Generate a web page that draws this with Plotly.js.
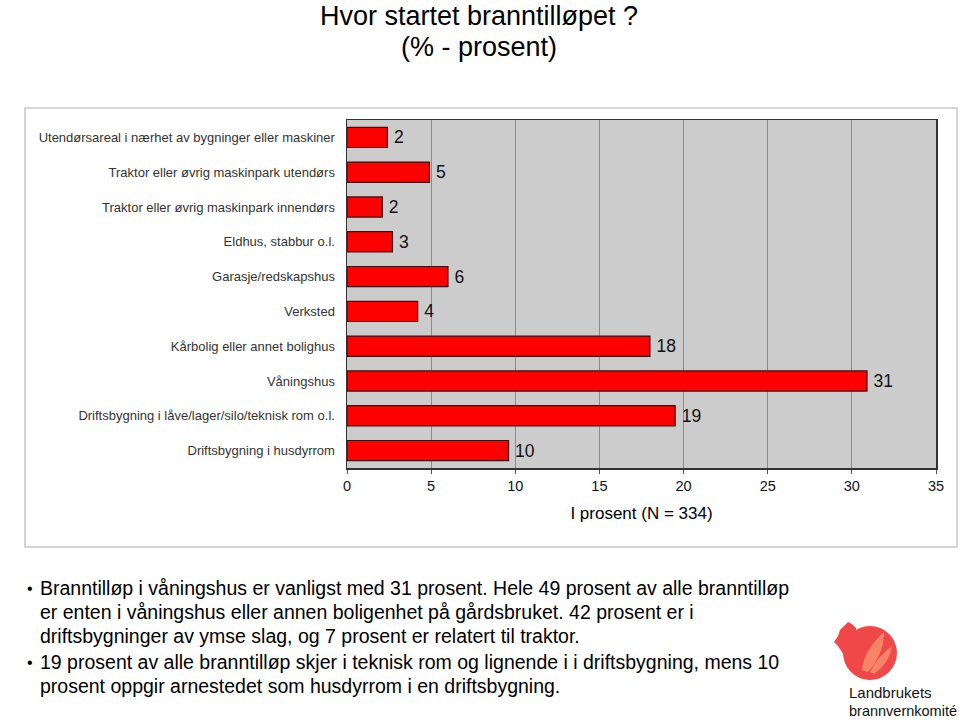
<!DOCTYPE html>
<html>
<head>
<meta charset="utf-8">
<script src="https://cdn.plot.ly/plotly-3.0.1.min.js"></script>
<style>
html,body{margin:0;padding:0;background:#fff;}
#chart{width:960px;height:727px;}
</style>
</head>
<body>
<div id="chart"></div>
<script>
const categories = [
  "Utendørsareal i nærhet av bygninger eller maskiner",
  "Traktor eller øvrig maskinpark utendørs",
  "Traktor eller øvrig maskinpark innendørs",
  "Eldhus, stabbur o.l.",
  "Garasje/redskapshus",
  "Verksted",
  "Kårbolig eller annet bolighus",
  "Våningshus",
  "Driftsbygning i låve/lager/silo/teknisk rom o.l.",
  "Driftsbygning i husdyrrom"
];
const values = [2.4, 4.9, 2.1, 2.7, 6.0, 4.2, 18.0, 30.9, 19.5, 9.6];
const valueLabels = ["2", "5", "2", "3", "6", "4", "18", "31", "19", "10"];
const xTicks = [0, 5, 10, 15, 20, 25, 30, 35];

const bulletLines = [
  "Branntilløp i våningshus er vanligst med 31 prosent. Hele 49 prosent av alle branntilløp",
  "er enten i våningshus eller annen boligenhet på gårdsbruket. 42 prosent er i",
  "driftsbygninger av ymse slag, og 7 prosent er relatert til traktor.",
  "19 prosent av alle branntilløp skjer i teknisk rom og lignende i i driftsbygning, mens 10",
  "prosent oppgir arnestedet som husdyrrom i en driftsbygning."
];

const W = 960, H = 727;
const mL = 347, mR = 24, mT = 120, mB = 259;
const pw = W - mL - mR, ph = H - mT - mB;
function px(x){ return (x - mL) / pw; }
function py(y){ return 1 - (y - mT) / ph; }

const FONT = "Liberation Sans, Arial, sans-serif";

const trace = {
  type: "bar",
  orientation: "h",
  y: categories,
  x: values,
  text: valueLabels.map(s => "\u2009" + s),
  textposition: "outside",
  cliponaxis: false,
  textfont: {family: FONT, size: 17.5, color: "#111"},
  marker: {color: "#ff0000", line: {color: "#3a1010", width: 1.2}},
  hoverinfo: "none"
};

const annotations = [];
const bulletY = [588, 612, 636, 662, 686];
const bulletStart = [true, false, false, true, false];
bulletLines.forEach((t, i) => {
  annotations.push({
    xref: "paper", yref: "paper", x: px(38), y: py(bulletY[i]),
    xanchor: "left", yanchor: "middle", showarrow: false, text: t,
    font: {family: FONT, size: 19.5, color: "#000"}
  });
  if (bulletStart[i]) {
    annotations.push({
      xref: "paper", yref: "paper", x: px(30), y: py(bulletY[i]),
      xanchor: "center", yanchor: "middle", showarrow: false, text: "•",
      font: {family: FONT, size: 16, color: "#000"}
    });
  }
});
annotations.push({xref:"paper", yref:"paper", x: px(479), y: py(16), xanchor:"center", yanchor:"middle", showarrow:false,
  text:"Hvor startet branntilløpet ?", font:{family:FONT, size:27, color:"#000"}});
annotations.push({xref:"paper", yref:"paper", x: px(479), y: py(47), xanchor:"center", yanchor:"middle", showarrow:false,
  text:"(% - prosent)", font:{family:FONT, size:27, color:"#000"}});
annotations.push({xref:"paper", yref:"paper", x: px(847), y: py(692), xanchor:"left", yanchor:"middle", showarrow:false,
  text:"Landbrukets", font:{family:FONT, size:15, color:"#111"}});
annotations.push({xref:"paper", yref:"paper", x: px(847), y: py(711), xanchor:"left", yanchor:"middle", showarrow:false,
  text:"brannvernkomité", font:{family:FONT, size:14.5, color:"#111"}});

function P(pts){ return pts.map((p, i) => (i ? "L " : "M ") + px(p[0]) + " " + py(p[1])).join(" ") + " Z"; }

const shapes = [
  {type:"rect", xref:"paper", yref:"paper", x0:px(25), x1:px(957), y0:py(108), y1:py(547),
   line:{color:"#c8c8c8", width:1.5}, fillcolor:"rgba(0,0,0,0)", layer:"below"},
  {type:"circle", xref:"paper", yref:"paper", x0:px(843), x1:px(897), y0:py(626), y1:py(680),
   line:{width:0}, fillcolor:"#f04848"},
  {type:"path", xref:"paper", yref:"paper",
   path: P([[834,642],[838,636],[840,630],[844,626],[848,622],[852,624],[856,628],[856,640],[852,652],[846,660],[842,652],[838,646]]),
   line:{width:0}, fillcolor:"#f04848"},
  {type:"path", xref:"paper", yref:"paper",
   path:`M ${px(862)} ${py(670)} Q ${px(864)} ${py(650)} ${px(884)} ${py(632)} Q ${px(884)} ${py(654)} ${px(868)} ${py(672)} Z`,
   line:{width:0}, fillcolor:"#f78466"},
  {type:"path", xref:"paper", yref:"paper",
   path:`M ${px(870)} ${py(672)} Q ${px(878)} ${py(656)} ${px(892)} ${py(646)} Q ${px(890)} ${py(662)} ${px(874)} ${py(674)} Z`,
   line:{width:0}, fillcolor:"#f78466"}
];

const layout = {
  width: W, height: H,
  margin: {l: mL, r: mR, t: mT, b: mB, pad: 0},
  paper_bgcolor: "#ffffff",
  plot_bgcolor: "#cccccc",
  bargap: 0.42,
  showlegend: false,
  font: {family: FONT},
  xaxis: {
    range: [0, 35], tickvals: xTicks, ticktext: xTicks.map(String),
    showgrid: true, gridcolor: "#8c8c8c", gridwidth: 1,
    zeroline: false, showline: true, mirror: true, linecolor: "#333", linewidth: 1.5,
    ticks: "outside", ticklen: 4, tickcolor: "#555",
    tickfont: {family: FONT, size: 14.5, color: "#111"},
    title: {text: "I prosent (N = 334)", font: {family: FONT, size: 17, color: "#000"}, standoff: 14},
    fixedrange: true
  },
  yaxis: {
    autorange: "reversed", type: "category",
    showgrid: false, zeroline: false, showline: true, mirror: true, linecolor: "#333", linewidth: 1.5,
    ticks: "", ticklabelstandoff: 8,
    tickfont: {family: FONT, size: 13, color: "#333"},
    fixedrange: true
  },
  annotations: annotations,
  shapes: shapes
};

Plotly.newPlot("chart", [trace], layout, {displayModeBar: false, staticPlot: true});
</script>
</body>
</html>
